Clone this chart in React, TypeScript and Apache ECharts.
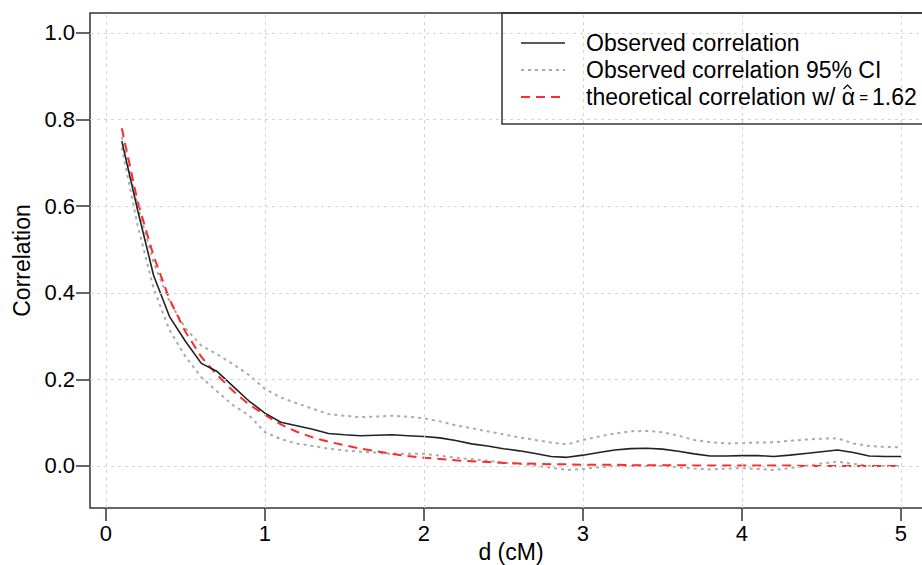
import React, { useEffect, useRef } from "react";
import * as echarts from "echarts";

const D = [
  0.1, 0.2, 0.3, 0.4, 0.5, 0.6, 0.7, 0.8, 0.9, 1.0,
  1.1, 1.2, 1.3, 1.4, 1.5, 1.6, 1.7, 1.8, 1.9, 2.0,
  2.1, 2.2, 2.3, 2.4, 2.5, 2.6, 2.7, 2.8, 2.9, 3.0,
  3.1, 3.2, 3.3, 3.4, 3.5, 3.6, 3.7, 3.8, 3.9, 4.0,
  4.1, 4.2, 4.3, 4.4, 4.5, 4.6, 4.7, 4.8, 4.9, 5.0,
];

const OBSERVED = [
  0.75, 0.59, 0.44, 0.345, 0.288, 0.237, 0.218, 0.184, 0.15, 0.122,
  0.101, 0.093, 0.085, 0.075, 0.072, 0.07, 0.071, 0.072, 0.07, 0.068,
  0.065, 0.059, 0.051, 0.046, 0.04, 0.035, 0.029, 0.022, 0.02, 0.025,
  0.031, 0.037, 0.04, 0.041, 0.039, 0.034, 0.028, 0.023, 0.023, 0.024,
  0.024, 0.022, 0.025, 0.029, 0.033, 0.037, 0.031, 0.023, 0.022, 0.022,
];

const CI_UPPER = [
  0.76, 0.6, 0.47, 0.38, 0.318, 0.278, 0.258, 0.235, 0.21, 0.178,
  0.158, 0.145, 0.132, 0.12, 0.116, 0.113, 0.114, 0.116, 0.114, 0.11,
  0.103, 0.094, 0.087, 0.08, 0.073, 0.066, 0.06, 0.054, 0.05, 0.06,
  0.068, 0.075, 0.08, 0.081, 0.078, 0.07, 0.06, 0.055, 0.052, 0.053,
  0.054, 0.055, 0.058, 0.061, 0.063, 0.064, 0.052, 0.046, 0.044, 0.043,
];

const CI_LOWER = [
  0.735, 0.555, 0.41, 0.314, 0.253, 0.205, 0.172, 0.14, 0.117, 0.078,
  0.062, 0.052, 0.046, 0.04, 0.036, 0.033, 0.031, 0.028, 0.028, 0.028,
  0.024, 0.019, 0.016, 0.012, 0.008, 0.005, 0.001, -0.004, -0.009, -0.007,
  -0.003, 0.0, 0.0, 0.0, 0.0, -0.003, -0.006, -0.008, -0.006, -0.005,
  -0.007, -0.009, -0.005, 0.0, 0.006, 0.01, 0.005, 0.0, 0.0, 0.0,
];

const THEORETICAL = [
  0.78, 0.61, 0.485, 0.385, 0.31, 0.252, 0.21, 0.173, 0.142, 0.118,
  0.096, 0.079, 0.066, 0.056, 0.048, 0.04, 0.034, 0.028, 0.023, 0.019,
  0.016, 0.013, 0.011, 0.009, 0.007, 0.006, 0.005, 0.004, 0.004, 0.003,
  0.003, 0.003, 0.002, 0.002, 0.002, 0.002, 0.001, 0.001, 0.001, 0.001,
  0.001, 0.001, 0.001, 0.0, 0.0, 0.0, 0.0, 0.0, 0.0, 0.0,
];

const X_TICKS = [0, 1, 2, 3, 4, 5];
const Y_TICKS = [0, 0.2, 0.4, 0.6, 0.8, 1.0];

const LEGEND_LABELS = [
  "Observed correlation",
  "Observed correlation 95% CI",
  "theoretical correlation w/ ",
];
const ALPHA_HAT_VALUE = "1.62";

const FONT = "'Liberation Sans', Arial, Helvetica, sans-serif";
const TICK_FONT = 22;
const TEXT_FONT = 23;

export default function App() {
  const ref = useRef<HTMLDivElement>(null);

  useEffect(() => {
    if (!ref.current) return;
    const chart = echarts.init(ref.current, undefined, { renderer: "svg" });

    const pairs = (ys: number[]) => D.map((d, i) => [d, ys[i]]);

    const gridMarkLines = [
      ...X_TICKS.map((v) => ({ xAxis: v })),
      ...Y_TICKS.map((v) => ({ yAxis: v })),
    ];

    const legendY = [43, 70, 97];
    const legendStyles = [
      { stroke: "#222", lineWidth: 1.6, lineDash: null as any },
      { stroke: "#aaaaaa", lineWidth: 2, lineDash: [3, 4] },
      { stroke: "#ff2a2a", lineWidth: 2, lineDash: [9, 6] },
    ];
    const legendTextX = 586;
    // x where the alpha glyph starts (after "theoretical correlation w/ ")
    const alphaX = legendTextX + 255.5;

    const option: any = {
      animation: false,
      backgroundColor: "#ffffff",
      textStyle: { fontFamily: FONT },
      grid: {
        left: 90,
        top: 13,
        width: 842,
        height: 495,
        show: true,
        borderColor: "#333",
        borderWidth: 1.5,
        backgroundColor: "transparent",
        containLabel: false,
        outerBoundsMode: "none",
      },
      xAxis: {
        type: "value",
        min: -0.1,
        max: 5.195,
        name: "d (cM)",
        nameLocation: "middle",
        nameGap: 32,
        nameMoveOverlap: false,
        nameTextStyle: { fontSize: TEXT_FONT, color: "#000", fontFamily: FONT },
        axisLine: { show: false, onZero: false },
        splitLine: { show: false },
        axisTick: {
          show: true,
          customValues: X_TICKS,
          length: 13,
          inside: false,
          lineStyle: { color: "#333", width: 1.5 },
        },
        axisLabel: {
          customValues: X_TICKS,
          fontSize: TICK_FONT,
          color: "#000",
          margin: 14,
          fontFamily: FONT,
          formatter: (v: number) => String(v),
        },
      },
      yAxis: {
        type: "value",
        min: -0.097,
        max: 1.046,
        name: "Correlation",
        nameLocation: "middle",
        nameRotate: 90,
        nameGap: 56,
        nameTextStyle: { fontSize: TEXT_FONT, color: "#000", fontFamily: FONT },
        axisLine: { show: false, onZero: false },
        splitLine: { show: false },
        axisTick: {
          show: true,
          customValues: Y_TICKS,
          length: 14,
          inside: false,
          lineStyle: { color: "#333", width: 1.5 },
        },
        axisLabel: {
          customValues: Y_TICKS,
          fontSize: TICK_FONT,
          color: "#000",
          margin: 15,
          fontFamily: FONT,
          formatter: (v: number) => v.toFixed(1),
        },
      },
      series: [
        {
          name: "grid",
          type: "line",
          data: [],
          silent: true,
          markLine: {
            silent: true,
            symbol: "none",
            label: { show: false },
            lineStyle: { color: "#d3d3d3", width: 1, type: [3, 4] },
            data: gridMarkLines,
          },
        },
        {
          name: "Observed correlation 95% CI upper",
          type: "line",
          data: pairs(CI_UPPER),
          showSymbol: false,
          clip: false,
          lineStyle: { color: "#aaaaaa", width: 2, type: [3, 4] },
        },
        {
          name: "Observed correlation 95% CI lower",
          type: "line",
          data: pairs(CI_LOWER),
          showSymbol: false,
          clip: false,
          lineStyle: { color: "#aaaaaa", width: 2, type: [3, 4] },
        },
        {
          name: "theoretical correlation",
          type: "line",
          data: pairs(THEORETICAL),
          showSymbol: false,
          clip: false,
          lineStyle: { color: "#ff2a2a", width: 2, type: [9, 6] },
        },
        {
          name: "Observed correlation",
          type: "line",
          data: pairs(OBSERVED),
          showSymbol: false,
          clip: false,
          lineStyle: { color: "#222", width: 1.6 },
        },
      ],
      graphic: [
        {
          type: "rect",
          shape: { x: 502, y: 13, width: 440, height: 111 },
          style: { fill: "none", stroke: "#333", lineWidth: 1.5 },
          z: 10,
        },
        ...legendY.map((y, i) => ({
          type: "line",
          shape: { x1: 521, y1: y, x2: 565, y2: y },
          style: {
            stroke: legendStyles[i].stroke,
            lineWidth: legendStyles[i].lineWidth,
            lineDash: legendStyles[i].lineDash,
          },
          z: 10,
        })),
        {
          type: "text",
          x: legendTextX,
          y: legendY[0],
          style: {
            text: LEGEND_LABELS[0],
            fontSize: TEXT_FONT,
            fontFamily: FONT,
            fill: "#000",
            verticalAlign: "middle",
          },
          z: 10,
        },
        {
          type: "text",
          x: legendTextX,
          y: legendY[1],
          style: {
            text: LEGEND_LABELS[1],
            fontSize: TEXT_FONT,
            fontFamily: FONT,
            fill: "#000",
            verticalAlign: "middle",
          },
          z: 10,
        },
        {
          type: "text",
          x: legendTextX,
          y: legendY[2],
          style: {
            text: LEGEND_LABELS[2] + "{h|α}{e| = }" + ALPHA_HAT_VALUE,
            fontSize: TEXT_FONT,
            fontFamily: FONT,
            fill: "#000",
            verticalAlign: "middle",
            rich: {
              h: { fontSize: TEXT_FONT, fontFamily: FONT, fill: "#000" },
              e: { fontSize: 15, fontFamily: FONT, fill: "#000" },
            },
          },
          z: 10,
        },
        {
          type: "polyline",
          shape: {
            points: [
              [alphaX + 2, legendY[2] - 8],
              [alphaX + 6, legendY[2] - 12],
              [alphaX + 10, legendY[2] - 8],
            ],
          },
          style: { stroke: "#000", lineWidth: 1.2, fill: "none" },
          z: 10,
        },
      ],
    };

    chart.setOption(option);
    return () => chart.dispose();
  }, []);

  return (
    <div
      style={{
        position: "absolute",
        left: 0,
        top: 0,
        width: 922,
        height: 565,
        overflow: "hidden",
      }}
    >
      <div ref={ref} style={{ width: 922, height: 565 }} />
    </div>
  );
}
